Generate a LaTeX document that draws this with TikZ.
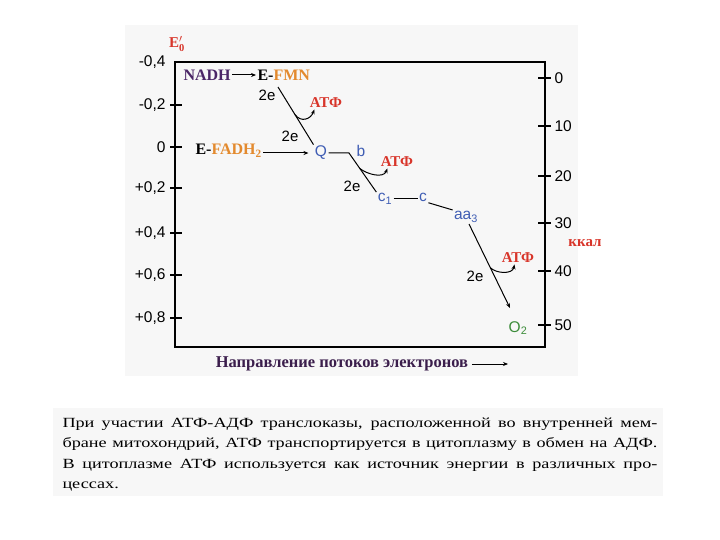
\documentclass[tikz,border=0pt]{standalone}
\usepackage{fontspec}
\setmainfont{Liberation Serif}
\setsansfont{Liberation Sans}
\newfontfamily\notefont[FakeStretch=1.3]{Liberation Serif}
\usetikzlibrary{calc,arrows.meta}

\definecolor{paper}{HTML}{F7F7F7}
\definecolor{nadhviolet}{HTML}{4B2667}
\definecolor{flavorange}{HTML}{E38A2E}
\definecolor{atfred}{HTML}{D8352A}
\definecolor{carrierblue}{HTML}{3F5DB4}
\definecolor{oxgreen}{HTML}{3C8C3A}
\definecolor{captionviolet}{HTML}{3B1E4C}

\tikzset{
	scalenum/.style={font=\sffamily\fontsize{15.5}{17}\selectfont, inner sep=1pt},
	donor/.style={font=\bfseries\fontsize{16}{18}\selectfont, inner sep=1pt},
	atf/.style={font=\bfseries\fontsize{15}{17}\selectfont, text=atfred, inner sep=1pt},
	carrier/.style={font=\sffamily\fontsize{15.5}{17}\selectfont, text=carrierblue, inner sep=1pt},
	twoe/.style={font=\sffamily\fontsize{15}{17}\selectfont, inner sep=1pt},
	pointed/.style={-{Stealth[length=5pt,width=4pt]}},
	noteline/.style={anchor=base west, inner sep=0pt, font=\notefont\fontsize{14}{16}\selectfont},
}

\begin{document}
\begin{tikzpicture}[x=1pt,y=-1pt,line width=1pt]
			%%%%% START %%%%%
			\useasboundingbox (0,0) rectangle (720,540);
			\fill[paper] (125,25) rectangle (578,376);
			\fill[paper] (53,408) rectangle (663,496);
			
			% frame and both scales
			\draw[line width=1.6pt] (175,62) rectangle (545,347);
			\node[font=\bfseries\fontsize{15}{17}\selectfont, text=atfred] (eo) at (177,44) {E$'_{\mathbf{0}}$};
			\node[scalenum, anchor=east] (l0) at (167,62) {-0,4};
			\foreach \v/\y [count=\i] in {{-0,2}/105, {0}/147, {+0,2}/188, {+0,4}/233, {+0,6}/275, {+0,8}/318}{
				\draw[line width=1.2pt] (170,\y) -- (182,\y);
				\node[scalenum, anchor=east] (l\i) at (167,\y) {\v};
			}
			\foreach \k/\y in {0/78, 10/126, 20/176, 30/223, 40/271, 50/325}{
				\draw[line width=1.2pt] (538,\y) -- (551,\y);
				\node[scalenum, anchor=west] (r\k) at (553,\y) {\k};
			}
			\node[font=\bfseries\fontsize{15}{17}\selectfont, text=atfred] (kcal) at (585,243) {ккал};
			
			% donors
			\node[donor, text=nadhviolet, anchor=west] (nadh) at (182,75) {NADH};
			\node[donor, anchor=west] (fmn) at (256,75) {E-\textcolor{flavorange}{FMN}};
			\draw[pointed] (nadh) -- (fmn);
			\node[donor, anchor=west] (fadh) at (194,151) {E-\textcolor{flavorange}{FADH\textsubscript{2}}};
			
			% carriers
			\node[carrier] (q) at (321,153) {Q};
			\node[carrier] (b) at (361,151) {b};
			\node[carrier] (c1) at (385,199) {c\textsubscript{1}};
			\node[carrier] (c) at (423,197) {c};
			\node[carrier] (aa3) at (466,217) {aa\textsubscript{3}};
			\node[carrier, text=oxgreen] (o2) at (518,328) {O\textsubscript{2}};
			\draw[pointed, shorten >=5pt] (fadh.east |- q) -- (q.west);
			
			\coordinate (fmnfoot) at (278,87);
			\coordinate (qb) at (349,153);
			\coordinate (o2tip) at (510,308);
			\draw (fmnfoot) -- (q.north west);
			\draw (q.east) -- (qb) -- (c1.north west);
			\draw (c1.east) -- (c1.east -| c.west);
			\draw (c.south east) -- (aa3.north west);
			\draw[pointed] ([xshift=3pt]aa3.south) -- (o2tip);
			
			% 2e
			\node[twoe] (e1) at (267,95) {2e};
			\node[twoe] (e2) at (290,136) {2e};
			\node[twoe] (e3) at (352,186) {2e};
			\node[twoe] (e4) at (475,276) {2e};
			
			% ATP out of each site
			\node[atf] (atf1) at (326,103) {АТФ};
			\node[atf] (atf2) at (397,162) {АТФ};
			\node[atf] (atf3) at (518,258) {АТФ};
			\coordinate (s1) at ($(fmnfoot)!0.48!(q.north west)$);
			\coordinate (s2) at ($(qb)!0.4!(c1.north west)$);
			\coordinate (s3) at ($([xshift=3pt]aa3.south)!0.52!(o2tip)$);
			\draw[pointed] (s1) .. controls ($(s1)+(6,8)$) and ($(atf1.south west)+(2,10)$) .. ([xshift=6pt]atf1.south west);
			\draw[pointed] (s2) .. controls ($(s2)+(8,6)$) and ($(atf2.south west)+(4,10)$) .. ([xshift=8pt]atf2.south west);
			\draw[pointed] (s3) .. controls ($(s3)+(6,6)$) and ($(atf3.south west)+(12,10)$) .. ([xshift=14pt]atf3.south west);
			
			% direction of flow
			\node[font=\bfseries\fontsize{16.5}{18}\selectfont, text=captionviolet, anchor=west] (dir) at (212,364) {Направление потоков электронов};
			\coordinate (dirend) at (508,366);
			\draw[pointed] (dir.east) -- (dir.east -| dirend);
			
			% note under the figure
			\node[noteline] (n1) at (62,427) {\makebox[595pt][s]{При участии АТФ-АДФ транслоказы, расположенной во внутренней мем-}};
			\node[noteline] (n2) at (62,447) {\makebox[595pt][s]{бране митохондрий, АТФ транспортируется в цитоплазму в обмен на АДФ.}};
			\node[noteline] (n3) at (62,468) {\makebox[595pt][s]{В цитоплазме АТФ используется как источник энергии в различных про-}};
			\node[noteline] (n4) at (62,488) {цессах.};
			%%%%% END %%%%%
\end{tikzpicture}
\end{document}
